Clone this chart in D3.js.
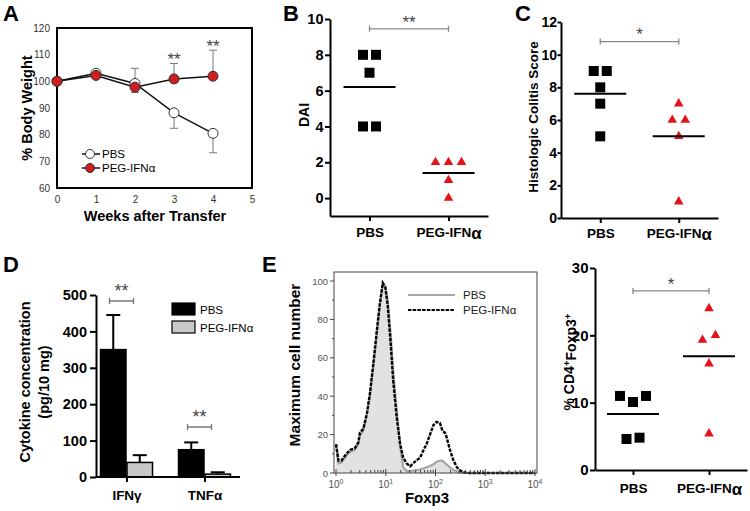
<!DOCTYPE html>
<html><head><meta charset="utf-8">
<script src="https://cdn.jsdelivr.net/npm/d3@7"></script>
<style>body{margin:0;background:#fff}svg{display:block;font-family:"Liberation Sans",Arial,Helvetica,sans-serif}</style>
</head><body><svg id="c" width="750" height="511"></svg>
<script>
// ---------- DATA ----------
const weeks=[0,1,2,3,4];
const weightPBS=[100,103,99.2,88.2,80.5];
const weightPBSErr=[0,1,5.7,-5.8,-7.3];
const weightPEG=[100,102.2,97.8,100.9,101.9];
const weightPEGErr=[0,-0.8,-2,5.8,9.8];
const weightTicksX=[0,1,2,3,4,5];
const weightTicksY=[60,70,80,90,100,110,120];
const weightSigWeeks=[3,4];

const groups=["PBS","PEG-IFNα"];
const daiPBS=[8,8,7,4,4];
const daiPEG=[2,2,2,1,0];
const daiTicks=[0,2,4,6,8,10];

const colitisPBS=[9,9,8,7,5];
const colitisPEG=[7,6,6,5,1];
const colitisTicks=[0,2,4,6,8,10,12];

const cytokines=["IFNγ","TNFα"];
const cytoPBS=[350,75];
const cytoPBSErr=[95,20];
const cytoPEG=[40,8];
const cytoPEGErr=[20,5];
const cytoTicks=[0,100,200,300,400,500];

const foxp3Exp=[0,0.05,0.11,0.21,0.28,0.38,0.45,0.48,0.55,0.62,0.68,0.75,0.82,0.88,0.94,0.99,1.04,1.10,1.15,1.22,1.29,1.35,1.42,1.49,1.55,1.62,1.69,1.76,1.82,1.89,1.96,2.02,2.09,2.14,2.19,2.22,2.29,2.36,2.43,2.49,2.56,2.63,4.0];
const foxp3PEG=[15,6.5,6.5,10,12,13,16,21,23,31,41,57,74,88,99,97,87,67,48,29,15,8,5,3.5,5,6.6,8,12,15,20,25,26.6,26,22,21,19,12,6.6,3,1.4,0.5,0,0];
const foxp3PBS=[15,5,5.5,9,11,12,15,19.5,22,30,40,55,72,87,98,97,90,72,53,33,14,3,1,1,1.2,1.5,1.8,2.5,3,3.6,4.5,5.8,6.5,6.3,5.2,4.5,3,1.5,0.8,0.3,0,0,0];
const histTicksY=[0,20,40,60,80,100];
const histDecades=[0,1,2,3,4];

const tregPBS=[11,10.1,11,4.6,4.8];
const tregPEG=[24,19.3,20,15.8,5.4];
const tregTicks=[0,10,20,30];

// ---------- DRAW ----------
const svg=d3.select("#c");
const RED="#e3121b";
svg.append("rect").attr("width",750).attr("height",511).attr("fill","#fff");

function bold(t,x,y,size,anchor){return svg.append("text").attr("x",x).attr("y",y).attr("font-size",size).attr("font-weight","bold").attr("text-anchor",anchor||"start").attr("fill","#000").text(t);}
[["A",3,21],["B",283,21],["C",515,21],["D",3,272],["E",262,272]].forEach(d=>bold(d[0],d[1],d[2],22));

function vtitle(t,x,y,size){return svg.append("text").attr("transform",`translate(${x},${y}) rotate(-90)`).attr("text-anchor","middle").attr("dy","0.35em").attr("font-size",size).attr("font-weight","bold").text(t);}
function stars(t,x,cy,size){svg.append("text").attr("x",x).attr("y",cy+0.58*size).attr("text-anchor","middle").attr("font-size",size).attr("fill","#444").text(t);}
function catLabels(sel){sel.selectAll(".tick text").each(function(d){if(d.endsWith("α")){const t=d3.select(this);t.text(d.slice(0,-1));t.append("tspan").attr("font-size","1.25em").attr("dy","0.12em").text("α");}});}

// ---- Panel A ----
{
 const x=d3.scaleLinear().domain([0,5]).range([57,252]);
 const y=d3.scaleLinear().domain([60,120]).range([188,28]);
 const g=svg.append("g");
 const ax=g.append("g").attr("transform",`translate(0,${y(60)})`).call(d3.axisBottom(x).tickValues(weightTicksX).tickFormat(d3.format("d")).tickSize(0).tickPadding(8));
 const ay=g.append("g").attr("transform",`translate(${x(0)},0)`).call(d3.axisLeft(y).tickValues(weightTicksY).tickFormat(d3.format("d")).tickSize(0).tickPadding(7));
 [ax,ay].forEach(a=>{a.select(".domain").remove();a.selectAll("text").attr("font-size",10).attr("fill","#333").attr("font-family",null);});
 g.append("rect").attr("x",x(0)).attr("y",y(120)).attr("width",x(5)-x(0)).attr("height",y(60)-y(120)).attr("fill","none").attr("stroke","#000").attr("stroke-width",2);
 [[weightPBS,weightPBSErr],[weightPEG,weightPEGErr]].forEach(([v,e])=>{
   weeks.forEach((w,i)=>{ if(e[i]===0) return;
     g.append("line").attr("x1",x(w)).attr("x2",x(w)).attr("y1",y(v[i])).attr("y2",y(v[i]+e[i])).attr("stroke","#777").attr("stroke-width",1);
     g.append("line").attr("x1",x(w)-4).attr("x2",x(w)+4).attr("y1",y(v[i]+e[i])).attr("y2",y(v[i]+e[i])).attr("stroke","#777").attr("stroke-width",1);
   });
 });
 const line=d3.line().x((d,i)=>x(weeks[i])).y(d=>y(d));
 g.append("path").attr("d",line(weightPBS)).attr("fill","none").attr("stroke","#111").attr("stroke-width",1.5);
 g.append("path").attr("d",line(weightPEG)).attr("fill","none").attr("stroke","#111").attr("stroke-width",1.5);
 g.selectAll(null).data(weightPBS).join("circle").attr("cx",(d,i)=>x(weeks[i])).attr("cy",d=>y(d)).attr("r",5).attr("fill","#fff").attr("stroke","#333");
 g.selectAll(null).data(weightPEG).join("circle").attr("cx",(d,i)=>x(weeks[i])).attr("cy",d=>y(d)).attr("r",5).attr("fill","#d01d1d").attr("stroke","#333");
 weightSigWeeks.forEach(w=>{const i=weeks.indexOf(w);stars("**",x(w),y(weightPEG[i]+weightPEGErr[i])-8,17);});
 [["PBS","#fff",154],["PEG-IFNα","#d01d1d",168]].forEach(([t,f,yy])=>{
   g.append("line").attr("x1",82).attr("x2",100).attr("y1",yy).attr("y2",yy).attr("stroke","#111").attr("stroke-width",1.5);
   g.append("circle").attr("cx",90).attr("cy",yy).attr("r",4.5).attr("fill",f).attr("stroke","#333");
   g.append("text").attr("x",102).attr("y",yy+4).attr("font-size",11.5).text(t);
 });
 bold("Weeks after Transfer",155,221,14.5,"middle");
 vtitle("% Body Weight",27,108,14.5);
}

// ---- generic scatter panels ----
function spread(vals,y,gap){
  const off=vals.map(()=>0),cl=[];
  vals.forEach((v,i)=>{const py=y(v);let c=cl.find(c=>Math.abs(c.py-py)<10);if(c)c.idx.push(i);else cl.push({py,idx:[i]});});
  cl.forEach(c=>{const n=c.idx.length;c.idx.forEach((i,k)=>off[i]=(k-(n-1)/2)*gap);});
  return off;
}
function scatterPanel(o){
  const y=d3.scaleLinear().domain(o.yDomain).range(o.yRange);
  const x=d3.scalePoint().domain(groups).range(o.xRange).padding(0.5);
  const g=svg.append("g");
  const ya=g.append("g").attr("transform",`translate(${o.xRange[0]},0)`).call(d3.axisLeft(y).tickValues(o.ticks).tickSize(o.tickLen).tickSizeOuter(0).tickPadding(o.tickPad));
  const xa=g.append("g").attr("transform",`translate(0,${o.yRange[0]})`).call(d3.axisBottom(x).tickSize(5).tickSizeOuter(0).tickPadding(o.xPad));
  [ya,xa].forEach(a=>{a.selectAll("path,line").attr("stroke","#000").attr("stroke-width",2);a.selectAll("text").attr("font-family",null).attr("font-weight","bold").attr("fill","#000");});
  ya.selectAll("text").attr("font-size",o.tickFont);
  xa.selectAll("text").attr("font-size",13.5);
  catLabels(xa);
  const sq=d3.symbol(d3.symbolSquare,100)(), tri=d3.symbol(d3.symbolTriangle,40)();
  [o.pbs,o.peg].forEach((vals,gi)=>{
    const off=spread(vals,y,13),cx=x(groups[gi]);
    g.selectAll(null).data(vals).join("path").attr("transform",(d,i)=>`translate(${cx+off[i]},${y(d)})`).attr("d",gi?tri:sq).attr("fill",gi?RED:"#000");
    const m=d3.mean(vals);
    g.append("line").attr("x1",cx-26).attr("x2",cx+26).attr("y1",y(m)).attr("y2",y(m)).attr("stroke","#000").attr("stroke-width",2);
  });
  const sy=y(o.sigAt),x1=x(groups[0]),x2=x(groups[1]);
  g.append("path").attr("d",`M${x1},${sy-3}V${sy+3}M${x1},${sy}H${x2}M${x2},${sy-3}V${sy+3}`).attr("stroke","#888").attr("stroke-width",1.3).attr("fill","none");
  stars(o.sig,(x1+x2)/2,sy-11,17);
  if(o.title) vtitle(o.title,o.titleX,o.titleY,o.titleSize);
  return g;
}
scatterPanel({yDomain:[-1,10],yRange:[216,19],xRange:[330,488],ticks:daiTicks,pbs:daiPBS,peg:daiPEG,sigAt:9.45,sig:"**",title:"DAI",titleX:304,titleY:115,titleSize:14,tickFont:14.5,tickLen:5,tickPad:1.5,xPad:6.5});
scatterPanel({yDomain:[0,12],yRange:[218,22],xRange:[561,718],ticks:colitisTicks,pbs:colitisPBS,peg:colitisPEG,sigAt:10.8,sig:"*",title:"Histologic Colitis Score",titleX:533,titleY:117,titleSize:13.5,tickFont:14,tickLen:3.5,tickPad:0.5,xPad:5.5});
{
 scatterPanel({yDomain:[0,30],yRange:[470,268],xRange:[595,747],ticks:tregTicks,pbs:tregPBS,peg:tregPEG,sigAt:26.6,sig:"*",title:"",tickFont:15,tickLen:5,tickPad:1.5,xPad:8.5});
 const t=svg.append("text").attr("transform","translate(569,362) rotate(-90)").attr("text-anchor","middle").attr("dy","0.35em").attr("font-size",14).attr("font-weight","bold");
 t.append("tspan").text("% CD4");t.append("tspan").attr("dy","-0.45em").attr("font-size","0.7em").text("+");
 t.append("tspan").attr("dy","0.45em").text("Foxp3");t.append("tspan").attr("dy","-0.45em").attr("font-size","0.7em").text("+");
}

// ---- Panel D ----
{
 const y=d3.scaleLinear().domain([0,500]).range([477,295]);
 const x=d3.scalePoint().domain(cytokines).range([126.5,204.5]);
 const g=svg.append("g");
 const bw=25.5;
 [[cytoPBS,cytoPBSErr,"#000",-1],[cytoPEG,cytoPEGErr,"#c8c8c8",0]].forEach(([v,e,f,s])=>{
   cytokines.forEach((c,i)=>{
     const bx=x(c)+s*bw+(s?-0.5:0.5), cx=bx+bw/2;
     g.append("line").attr("x1",cx).attr("x2",cx).attr("y1",y(v[i])).attr("y2",y(v[i]+e[i])).attr("stroke","#000").attr("stroke-width",2);
     g.append("line").attr("x1",cx-7).attr("x2",cx+7).attr("y1",y(v[i]+e[i])).attr("y2",y(v[i]+e[i])).attr("stroke","#000").attr("stroke-width",2);
     g.append("rect").attr("x",bx).attr("y",y(v[i])).attr("width",bw).attr("height",y(0)-y(v[i])).attr("fill",f).attr("stroke","#000").attr("stroke-width",1.5);
   });
 });
 const ya=g.append("g").attr("transform","translate(96,0)").call(d3.axisLeft(y).tickValues(cytoTicks).tickSize(6).tickSizeOuter(0).tickPadding(3));
 ya.selectAll("path,line").attr("stroke","#000").attr("stroke-width",2);
 ya.selectAll("text").attr("font-family",null).attr("font-weight","bold").attr("font-size",14.5).attr("fill","#000");
 g.append("line").attr("x1",96).attr("x2",240).attr("y1",y(0)).attr("y2",y(0)).attr("stroke","#000").attr("stroke-width",2);
 const xa=g.append("g").attr("transform",`translate(0,${y(0)})`).call(d3.axisBottom(x).tickSize(5).tickSizeOuter(0).tickPadding(8));
 xa.select(".domain").remove();
 xa.selectAll("line").attr("stroke","#000").attr("stroke-width",2);
 xa.selectAll("text").attr("font-family",null).attr("font-weight","bold").attr("font-size",13.5).attr("fill","#000");
 cytokines.forEach((c,i)=>{
   const sy=i===0?301:427, x1=x(c)-17, x2=x(c)+7;
   g.append("path").attr("d",`M${x1},${sy-3}V${sy+3}M${x1},${sy}H${x2}M${x2},${sy-3}V${sy+3}`).attr("stroke","#777").attr("stroke-width",1.3).attr("fill","none");
   stars("**",(x1+x2)/2,sy-14,18);
 });
 [["PBS","#000",303],["PEG-IFNα","#c8c8c8",321]].forEach(([t,f,yy])=>{
   g.append("rect").attr("x",172).attr("y",yy).attr("width",23).attr("height",12).attr("fill",f).attr("stroke","#000").attr("stroke-width",1.2);
   g.append("text").attr("x",200).attr("y",yy+10.5).attr("font-size",11.5).text(t);
 });
 vtitle("Cytokine concentration",25,382,14.5);
 vtitle("(pg/10 mg)",44,382,14.5);
}

// ---- Panel E histogram ----
{
 const x=d3.scaleLog().domain([1,1e4]).range([336,535]);
 const y=d3.scaleLinear().domain([0,100]).range([473,281]);
 const g=svg.append("g");
 const pts=foxp3Exp.map((e,i)=>({v:Math.pow(10,e),pbs:foxp3PBS[i],peg:foxp3PEG[i]}));
 g.append("path").attr("d",d3.area().x(d=>x(d.v)).y0(y(0)).y1(d=>y(d.pbs))(pts)).attr("fill","#e2e2e2");
 g.append("path").attr("d",d3.line().x(d=>x(d.v)).y(d=>y(d.pbs))(pts)).attr("fill","none").attr("stroke","#a5a5a5").attr("stroke-width",2.2);
 g.append("path").attr("d",d3.line().x(d=>x(d.v)).y(d=>y(d.peg))(pts)).attr("fill","none").attr("stroke","#000").attr("stroke-width",2.4).attr("stroke-dasharray","3.5,1.2");
 g.append("rect").attr("x",334).attr("y",272).attr("width",203).attr("height",y(0)-272).attr("fill","none").attr("stroke","#444").attr("stroke-width",1);
 d3.range(0,101,10).forEach(v=>{
   g.append("line").attr("x1",334).attr("x2",v%20===0?330:332).attr("y1",y(v)).attr("y2",y(v)).attr("stroke","#444");
 });
 histTicksY.forEach(v=>g.append("text").attr("x",328).attr("y",y(v)+3.5).attr("text-anchor","end").attr("font-size",9.5).attr("fill","#555").text(v));
 histDecades.forEach(d=>{
   const v=Math.pow(10,d);
   g.append("line").attr("x1",x(v)).attr("x2",x(v)).attr("y1",y(0)-4).attr("y2",y(0)+3).attr("stroke","#444");
   if(d<4) d3.range(2,10).forEach(k=>g.append("line").attr("x1",x(k*v)).attr("x2",x(k*v)).attr("y1",y(0)).attr("y2",y(0)-3).attr("stroke","#444"));
   const t=g.append("text").attr("x",x(v)).attr("y",488).attr("text-anchor","middle").attr("font-size",10).attr("fill","#555");
   t.append("tspan").text("10");t.append("tspan").attr("dy",-4).attr("font-size",7).text(d);
 });
 g.append("line").attr("x1",408).attr("x2",455).attr("y1",295).attr("y2",295).attr("stroke","#a5a5a5").attr("stroke-width",2.2);
 g.append("line").attr("x1",408).attr("x2",455).attr("y1",310).attr("y2",310).attr("stroke","#000").attr("stroke-width",2.2).attr("stroke-dasharray","3.5,1.2");
 g.append("text").attr("x",463).attr("y",299).attr("font-size",11.5).attr("fill","#222").text("PBS");
 g.append("text").attr("x",463).attr("y",314).attr("font-size",11.5).attr("fill","#222").text("PEG-IFNα");
 bold("Foxp3",427,503,15,"middle");
 vtitle("Maximum cell number",295,365,15.5);
}
</script></body></html>
